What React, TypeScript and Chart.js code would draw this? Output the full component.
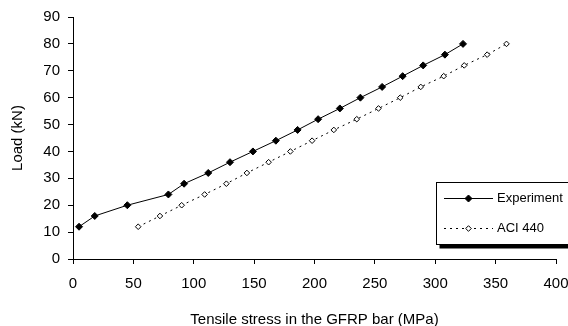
import React, { useEffect, useRef } from 'react';
import { Chart, registerables } from 'chart.js';

Chart.register(...registerables);

const expStress = [5, 18, 45, 79, 92, 112, 130, 149, 168, 186, 203, 221, 238, 256, 273, 290, 308, 323];
const expLoad = [12, 16, 20, 24, 28, 32, 36, 40, 44, 48, 52, 56, 60, 64, 68, 72, 76, 80];
const aciStress = [54, 72, 90, 109, 127, 144, 162, 180, 198, 216, 235, 253, 271, 288, 307, 324, 343, 359];
const aciLoad = [12, 16, 20, 24, 28, 32, 36, 40, 44, 48, 52, 56, 60, 64, 68, 72, 76, 80];
const seriesNames = ['Experiment', 'ACI 440'];
const xTitle = 'Tensile stress in the GFRP bar (MPa)';
const yTitle = 'Load (kN)';

const FONT = '"Liberation Sans", Arial, sans-serif';

function diamond(ctx: CanvasRenderingContext2D, x: number, y: number, r: number, filled: boolean) {
  ctx.beginPath();
  ctx.moveTo(x, y - r);
  ctx.lineTo(x + r, y);
  ctx.lineTo(x, y + r);
  ctx.lineTo(x - r, y);
  ctx.closePath();
  ctx.fillStyle = filled ? '#000' : '#fff';
  ctx.fill();
  ctx.strokeStyle = '#000';
  ctx.lineWidth = 1;
  ctx.setLineDash([]);
  ctx.stroke();
}

const legendPlugin = {
  id: 'customLegend',
  afterDraw(chart: any) {
    const ctx = chart.ctx as CanvasRenderingContext2D;
    ctx.save();
    const bx = 436.5, by = 182.5, bw = 140, bh = 62;
    ctx.fillStyle = '#000';
    ctx.fillRect(bx + 3, by + 3, bw, bh + 1);
    ctx.fillStyle = '#fff';
    ctx.fillRect(bx, by, bw, bh);
    ctx.strokeStyle = '#000';
    ctx.lineWidth = 1;
    ctx.strokeRect(bx, by, bw, bh);
    const rows = [198.5, 228.5];
    rows.forEach((y, i) => {
      ctx.beginPath();
      ctx.strokeStyle = '#000';
      ctx.lineWidth = 1;
      ctx.setLineDash(i === 0 ? [] : [2, 4]);
      ctx.moveTo(444, y);
      ctx.lineTo(493, y);
      ctx.stroke();
      diamond(ctx, 468.5, y, i === 0 ? 3.5 : 2.8, i === 0);
      ctx.fillStyle = '#000';
      ctx.font = `13px ${FONT}`;
      ctx.textAlign = 'left';
      ctx.textBaseline = 'middle';
      ctx.fillText(seriesNames[i], 497, y);
    });
    ctx.restore();
  },
};

export default function App() {
  const ref = useRef<HTMLCanvasElement>(null);
  useEffect(() => {
    if (!ref.current) return;
    const chart = new Chart(ref.current, {
      type: 'line',
      data: {
        datasets: [
          {
            label: seriesNames[0],
            data: expStress.map((x, i) => ({ x, y: expLoad[i] })),
            borderColor: '#000',
            borderWidth: 1,
            backgroundColor: '#000',
            pointStyle: 'rectRot',
            pointRadius: 3.5,
            pointBackgroundColor: '#000',
            pointBorderColor: '#000',
            pointBorderWidth: 1,
            tension: 0,
          },
          {
            label: seriesNames[1],
            data: aciStress.map((x, i) => ({ x, y: aciLoad[i] })),
            borderColor: '#000',
            borderWidth: 1,
            borderDash: [2, 4],
            backgroundColor: '#fff',
            pointStyle: 'rectRot',
            pointRadius: 2.8,
            pointBackgroundColor: '#fff',
            pointBorderColor: '#000',
            pointBorderWidth: 1,
            tension: 0,
          },
        ],
      },
      options: {
        animation: false,
        responsive: false,
        devicePixelRatio: 1,
        layout: { padding: { top: 17, right: 12, left: 0, bottom: 0 } },
        plugins: { legend: { display: false }, tooltip: { enabled: false } },
        scales: {
          x: {
            type: 'linear',
            min: 0,
            max: 400,
            afterFit: (s: any) => { s.height = 67; s.paddingLeft = 0; s.paddingRight = 0; },
            ticks: { stepSize: 50, color: '#000', font: { family: FONT, size: 15 }, padding: 11, maxRotation: 0 },
            grid: { display: true, drawOnChartArea: false, drawTicks: true, tickLength: 5, color: '#000' },
            border: { display: true, color: '#000', width: 1 },
            title: { display: true, text: xTitle, color: '#000', font: { family: FONT, size: 15 }, padding: { top: 0, bottom: -3 } },
          },
          y: {
            type: 'linear',
            min: 0,
            max: 90,
            afterFit: (s: any) => { s.width = 73; s.paddingTop = 0; s.paddingBottom = 0; },
            ticks: { stepSize: 10, color: '#000', font: { family: FONT, size: 15 }, padding: 8 },
            grid: { display: true, drawOnChartArea: false, drawTicks: true, tickLength: 5, color: '#000' },
            border: { display: true, color: '#000', width: 1 },
            title: { display: true, text: yTitle, color: '#000', font: { family: FONT, size: 15 }, padding: { top: 9, bottom: 0 } },
          },
        },
      },
      plugins: [legendPlugin],
    });
    return () => chart.destroy();
  }, []);
  return (
    <div style={{ position: 'absolute', left: 0, top: 0, width: 568, height: 326, background: '#fff' }}>
      <canvas ref={ref} width={568} height={326} style={{ display: 'block' }} />
    </div>
  );
}
